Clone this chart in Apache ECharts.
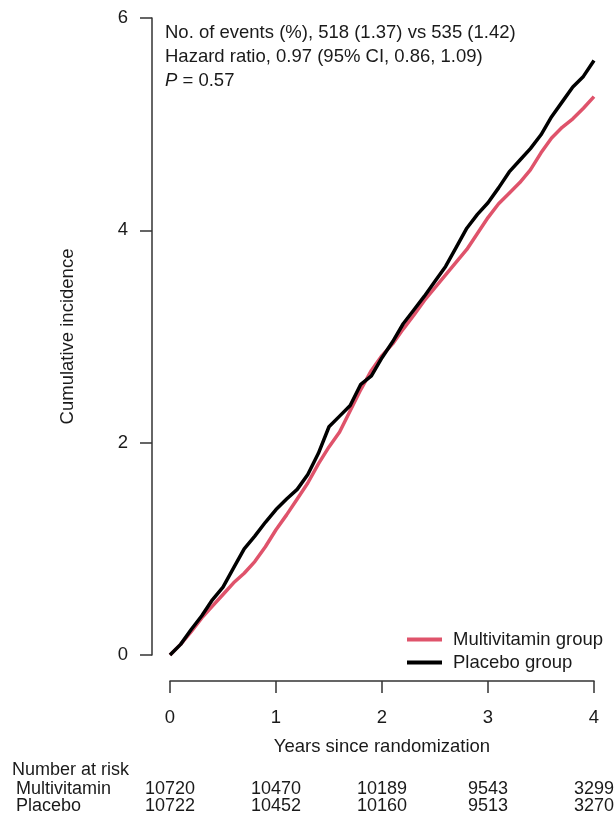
<!DOCTYPE html>
<html>
<head>
<meta charset="utf-8">
<script src="https://cdn.jsdelivr.net/npm/echarts@6/dist/echarts.min.js"></script>
<style>
  html, body { margin: 0; padding: 0; background: #fff; }
  #main { width: 616px; height: 813px; }
</style>
</head>
<body>
<div id="main"></div>
<script>
// years since randomization and cumulative incidence (%)
var years = [0, 0.1, 0.2, 0.3, 0.4, 0.5, 0.6, 0.7, 0.8, 0.9, 1.0, 1.1, 1.2, 1.3, 1.4, 1.5, 1.6, 1.7, 1.8, 1.9, 2.0,
  2.1, 2.2, 2.3, 2.4, 2.5, 2.6, 2.7, 2.8, 2.9, 3.0, 3.1, 3.2, 3.3, 3.4, 3.5, 3.6, 3.7, 3.8, 3.9, 4.0];
var multivitamin = [0, 0.1, 0.22, 0.35, 0.46, 0.57, 0.68, 0.77, 0.88, 1.02, 1.18, 1.32, 1.47, 1.62, 1.8, 1.96, 2.1, 2.3, 2.5, 2.68, 2.82,
  2.93, 3.07, 3.2, 3.34, 3.46, 3.58, 3.7, 3.82, 3.97, 4.12, 4.25, 4.35, 4.45, 4.57, 4.73, 4.87, 4.97, 5.05, 5.15, 5.26];
var placebo = [0, 0.1, 0.24, 0.37, 0.52, 0.64, 0.82, 1.0, 1.12, 1.25, 1.37, 1.47, 1.56, 1.7, 1.9, 2.15, 2.25, 2.35, 2.55, 2.63, 2.8,
  2.95, 3.12, 3.25, 3.38, 3.52, 3.66, 3.84, 4.02, 4.15, 4.26, 4.4, 4.55, 4.66, 4.77, 4.9, 5.07, 5.21, 5.35, 5.45, 5.6];

// number at risk table
var riskYears = [0, 1, 2, 3, 4];
var riskMultivitamin = [10720, 10470, 10189, 9543, 3299];
var riskPlacebo = [10722, 10452, 10160, 9513, 3270];

var font = 'Liberation Sans, Arial, sans-serif';
var ink = '#1a1a1a';
var fs = 18.5;
var fsTable = 18;

function pairs(xs, ys) {
  var out = [];
  for (var i = 0; i < xs.length; i++) out.push([xs[i], ys[i]]);
  return out;
}

// extra bottom axes used only to print the at-risk numbers under each year
function riskAxis(values, offset) {
  return {
    type: 'value', gridIndex: 0, position: 'bottom', min: 0, max: 4, interval: 1, offset: offset,
    axisLine: { show: false, onZero: false }, axisTick: { show: false }, splitLine: { show: false },
    axisLabel: {
      margin: 0, fontSize: fsTable, color: ink, fontFamily: font,
      showMinLabel: true, showMaxLabel: true, hideOverlap: false,
      formatter: function (v) {
        var i = riskYears.indexOf(v);
        return i < 0 ? '' : String(values[i]);
      }
    }
  };
}

var myChart = echarts.init(document.getElementById('main'));

option = {
  backgroundColor: '#fff',
  animation: false,
  grid: { left: 170, right: 22, top: 18, bottom: 158, outerBoundsMode: 'none', containLabel: false },
  legend: {
    data: ['Multivitamin group', 'Placebo group'],
    orient: 'vertical',
    left: 402,
    top: 625,
    icon: 'rect',
    itemWidth: 35,
    itemHeight: 4,
    itemGap: 4,
    textStyle: { fontSize: fs, color: ink, fontFamily: font, padding: [0, 0, 0, 6] }
  },
  xAxis: [{
    type: 'value', position: 'bottom', min: 0, max: 4, interval: 1, offset: 26,
    name: 'Years since randomization', nameLocation: 'middle', nameGap: 56,
    nameTextStyle: { fontSize: fs, color: ink, fontFamily: font },
    axisLine: { onZero: false, lineStyle: { color: '#333', width: 1.5 } },
    axisTick: { length: 12, lineStyle: { color: '#333', width: 1.5 } },
    axisLabel: { margin: 27, fontSize: fs, color: ink, fontFamily: font, showMinLabel: true, showMaxLabel: true },
    splitLine: { show: false }
  },
    riskAxis(riskMultivitamin, 125),
    riskAxis(riskPlacebo, 142)
  ],
  yAxis: {
    type: 'value', min: 0, max: 6, interval: 2, offset: 18,
    name: 'Cumulative incidence', nameLocation: 'middle', nameGap: 75,
    nameTextStyle: { fontSize: fs, color: ink, fontFamily: font },
    axisLine: { show: true, onZero: false, lineStyle: { color: '#333', width: 1.5 } },
    axisTick: { show: true, length: 12, lineStyle: { color: '#333', width: 1.5 } },
    axisLabel: { margin: 24, fontSize: fs, color: ink, fontFamily: font },
    splitLine: { show: false }
  },
  series: [{
    name: 'Multivitamin group',
    type: 'line',
    data: pairs(years, multivitamin),
    showSymbol: false,
    color: '#DF536B',
    lineStyle: { width: 3.5, color: '#DF536B' }
  }, {
    name: 'Placebo group',
    type: 'line',
    data: pairs(years, placebo),
    showSymbol: false,
    color: '#000',
    lineStyle: { width: 3.5, color: '#000' }
  }],
  graphic: [{
    type: 'text', left: 165, top: 21,
    style: {
      text: 'No. of events (%), 518 (1.37) vs 535 (1.42)\nHazard ratio, 0.97 (95% CI, 0.86, 1.09)\n{i|P} = 0.57',
      fontSize: fs, lineHeight: 24, fill: ink, fontFamily: font,
      rich: { i: { fontStyle: 'italic', fontSize: fs, fontFamily: font, fill: ink } }
    }
  }, {
    type: 'text', left: 12, top: 761,
    style: { text: 'Number at risk', fontSize: fsTable, fill: ink, fontFamily: font }
  }, {
    type: 'text', left: 16, top: 780,
    style: { text: 'Multivitamin', fontSize: fsTable, fill: ink, fontFamily: font }
  }, {
    type: 'text', left: 16, top: 797,
    style: { text: 'Placebo', fontSize: fsTable, fill: ink, fontFamily: font }
  }]
};

myChart.setOption(option);
</script>
</body>
</html>
